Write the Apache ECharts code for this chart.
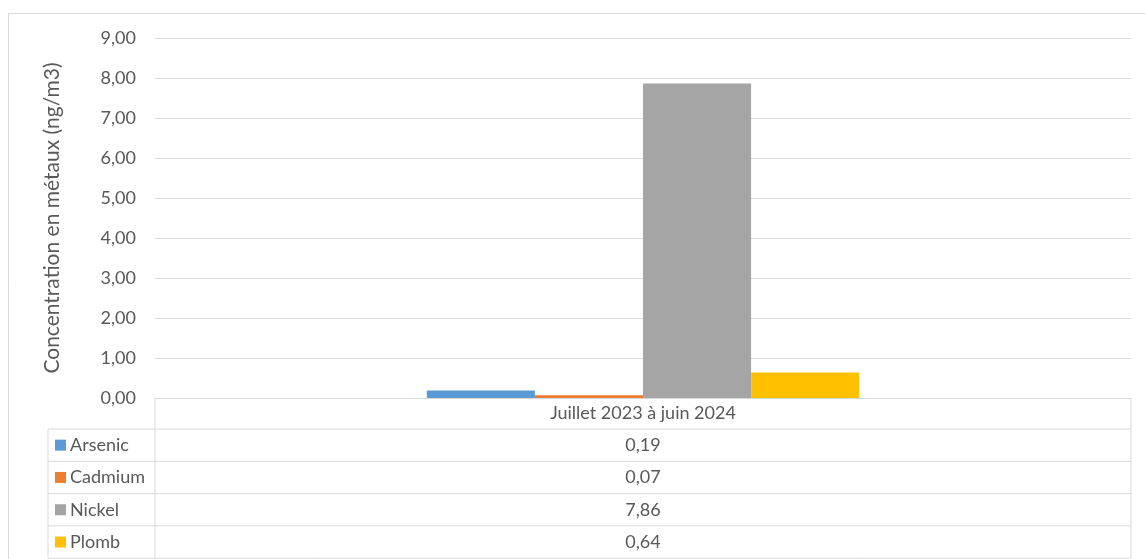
<!DOCTYPE html>
<html>
<head>
<meta charset="utf-8">
<script src="https://cdn.jsdelivr.net/npm/echarts@6/dist/echarts.min.js"></script>
<style>
  html, body { margin: 0; padding: 0; background: #fff; }
  #chart { width: 1145px; height: 559px; }
</style>
</head>
<body>
<div id="chart"></div>
<script>
const categories = ['Juillet 2023 à juin 2024'];
const seriesNames = ['Arsenic', 'Cadmium', 'Nickel', 'Plomb'];
const seriesValues = [0.19, 0.07, 7.86, 0.64];
const seriesColors = ['#5B9BD5', '#ED7D31', '#A5A5A5', '#FFC000'];
const yTicks = [0, 1, 2, 3, 4, 5, 6, 7, 8, 9];

const FONT = 'Lato';
const TXT = '#595959';
const LINE = '#d9d9d9';

const fmt = (v) => v.toFixed(2).replace('.', ',');

const chart = echarts.init(document.getElementById('chart'));

const series = seriesNames.map((name, i) => ({
  name: name,
  type: 'bar',
  data: [seriesValues[i]],
  itemStyle: { color: seriesColors[i] },
  barGap: '0%',
  barCategoryGap: '55.7%',
  silent: true
}));

chart.setOption({
  animation: false,
  textStyle: { fontFamily: FONT },
  grid: { left: 155, right: 14, top: 38, bottom: 161 },
  xAxis: {
    type: 'category',
    data: categories,
    axisLine: { show: true, lineStyle: { color: LINE, width: 1 } },
    axisTick: { show: false },
    axisLabel: { color: TXT, fontSize: 18, margin: 6, fontFamily: FONT }
  },
  yAxis: {
    type: 'value',
    min: yTicks[0],
    max: yTicks[yTicks.length - 1],
    interval: 1,
    name: 'Concentration en métaux (ng/m3)',
    nameLocation: 'middle',
    nameGap: 92,
    nameTextStyle: { color: TXT, fontSize: 21, fontFamily: FONT },
    axisLine: { show: false },
    axisTick: { show: false },
    axisLabel: { color: TXT, fontSize: 18, margin: 19, formatter: fmt, fontFamily: FONT },
    splitLine: { lineStyle: { color: LINE, width: 1 } }
  },
  series: series
});

// data table under the plot
function drawTable() {
  const x0 = chart.convertToPixel({ xAxisIndex: 0 }, 0);
  const left = 155, right = 1131, labelLeft = 48;
  const top = Math.round(chart.convertToPixel({ yAxisIndex: 0 }, 0)) + 0.5;
  const headerH = 30.5;
  const rowH = 32.3;
  const els = [];

  // outer border of the chart area
  els.push({
    type: 'rect', silent: true,
    shape: { x: 8.5, y: 13.5, width: 1200, height: 600 },
    style: { fill: 'none', stroke: '#d9d9d9', lineWidth: 1 }
  });

  const bottom = top + headerH + rowH * seriesNames.length;
  els.push({ type: 'line', silent: true, shape: { x1: left, y1: top, x2: left, y2: bottom }, style: { stroke: LINE, lineWidth: 1 } });
  els.push({ type: 'line', silent: true, shape: { x1: right, y1: top, x2: right, y2: bottom }, style: { stroke: LINE, lineWidth: 1 } });
  els.push({ type: 'line', silent: true, shape: { x1: labelLeft, y1: top + headerH, x2: labelLeft, y2: bottom }, style: { stroke: LINE, lineWidth: 1 } });
  els.push({ type: 'line', silent: true, shape: { x1: left, y1: top, x2: right, y2: top }, style: { stroke: LINE, lineWidth: 1 } });

  seriesNames.forEach((name, i) => {
    const yTop = top + headerH + rowH * i;
    const yMid = yTop + rowH / 2;
    els.push({ type: 'line', silent: true, shape: { x1: labelLeft, y1: yTop, x2: right, y2: yTop }, style: { stroke: LINE, lineWidth: 1 } });
    els.push({ type: 'rect', silent: true, shape: { x: 55, y: yMid - 5.5, width: 11, height: 11 }, style: { fill: seriesColors[i] } });
    els.push({ type: 'text', silent: true, x: 70, y: yMid, style: { text: name, fill: TXT, font: '18px ' + FONT, verticalAlign: 'middle', align: 'left' } });
    els.push({ type: 'text', silent: true, x: x0, y: yMid, style: { text: fmt(seriesValues[i]), fill: TXT, font: '18px ' + FONT, verticalAlign: 'middle', align: 'center' } });
  });
  els.push({ type: 'line', silent: true, shape: { x1: labelLeft, y1: bottom, x2: right, y2: bottom }, style: { stroke: LINE, lineWidth: 1 } });

  chart.setOption({ graphic: { elements: els } });
}
drawTable();
</script>
</body>
</html>
